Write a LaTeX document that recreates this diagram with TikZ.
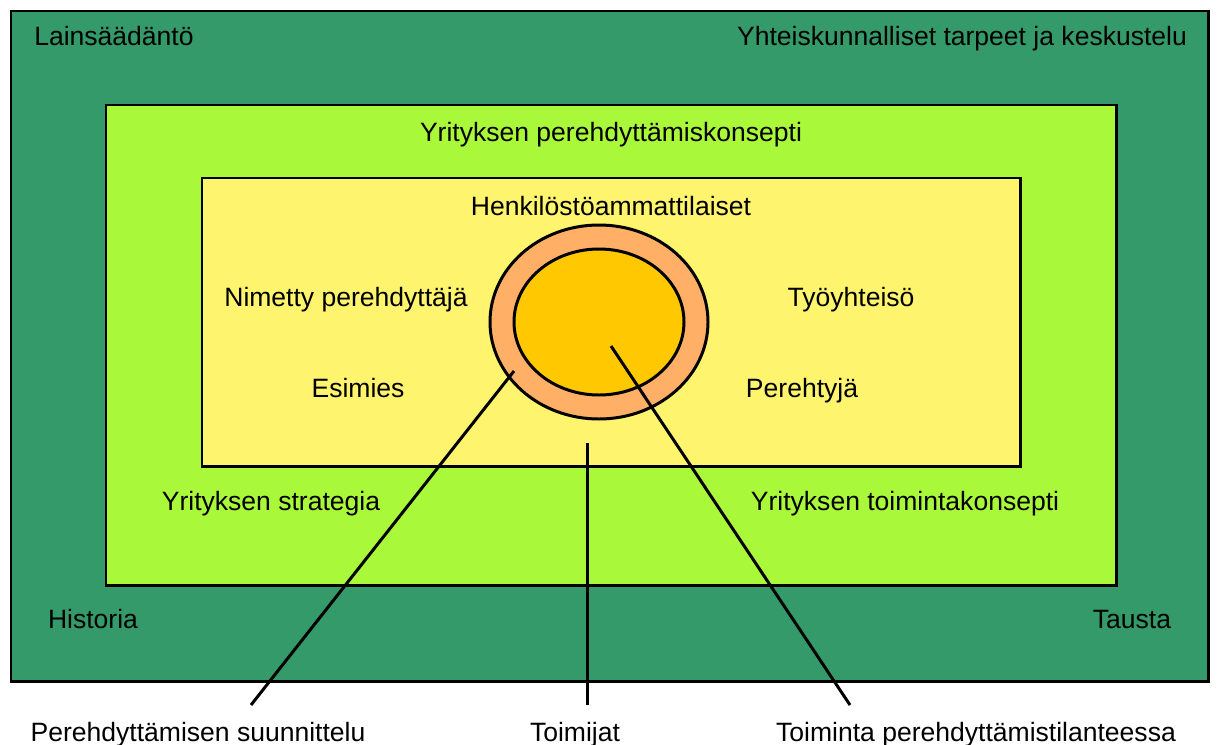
\documentclass[tikz,border=0pt]{standalone}
\usepackage{fontspec}
\setmainfont{Liberation Sans}
\definecolor{contextgreen}{HTML}{359A69}
\definecolor{conceptgreen}{HTML}{AAF83A}
\definecolor{staffyellow}{HTML}{FFF46E}
\definecolor{ringorange}{HTML}{FFB066}
\definecolor{coreyellow}{HTML}{FFC800}
\tikzset{
        box/.style={draw=black, line width=1.7pt},
        lbl/.style={anchor=base, inner sep=0pt, font=\fontsize{15.1}{18}\selectfont},
        lead/.style={line width=1.7pt}
}

\begin{document}
\begin{tikzpicture}[x=0.02cm, y=-0.02cm]
        \useasboundingbox (0,0) rectangle (1217,744);
        \fill[white] (0,0) rectangle (1217,744);
        \filldraw[box, fill=contextgreen] (11,11) rectangle (1208,681);
        \filldraw[box, fill=conceptgreen] (106,105) rectangle (1116,585);
        \filldraw[box, fill=staffyellow] (202,178) rectangle (1020,466);
        \filldraw[box, fill=ringorange] (599,322) ellipse [x radius=109, y radius=97];
        \filldraw[box, fill=coreyellow] (599,322) ellipse [x radius=85, y radius=73];
        \foreach \nm/\x/\y/\txt in {
            law/114/45/Lainsäädäntö,
            needs/962/45/Yhteiskunnalliset tarpeet ja keskustelu,
            concept/611/141/Yrityksen perehdyttämiskonsepti,
            hr/611/215/Henkilöstöammattilaiset,
            mentor/346/306/Nimetty perehdyttäjä,
            team/851/306/Työyhteisö,
            boss/358/397/Esimies,
            newbie/802/397/Perehtyjä,
            strategy/271/510/Yrityksen strategia,
            operations/905/510/Yrityksen toimintakonsepti,
            history/93/628/Historia,
            background/1132/628/Tausta,
            planning/198/741/Perehdyttämisen suunnittelu,
            actors/575/741/Toimijat,
            action/976/741/Toiminta perehdyttämistilanteessa}
        {
            \node[lbl] (\nm) at (\x,\y) {\txt};
        }
        \coordinate (planstart) at (514,371);
        \coordinate (planend) at (251,705);
        \coordinate (actorstart) at (587,443);
        \coordinate (actorend) at (587,705);
        \coordinate (actionstart) at (611,346);
        \coordinate (actionend) at (850,705);
        \draw[lead] (planstart) -- (planend);
        \draw[lead] (actorstart) -- (actorend);
        \draw[lead] (actionstart) -- (actionend);
\end{tikzpicture}
\end{document}
